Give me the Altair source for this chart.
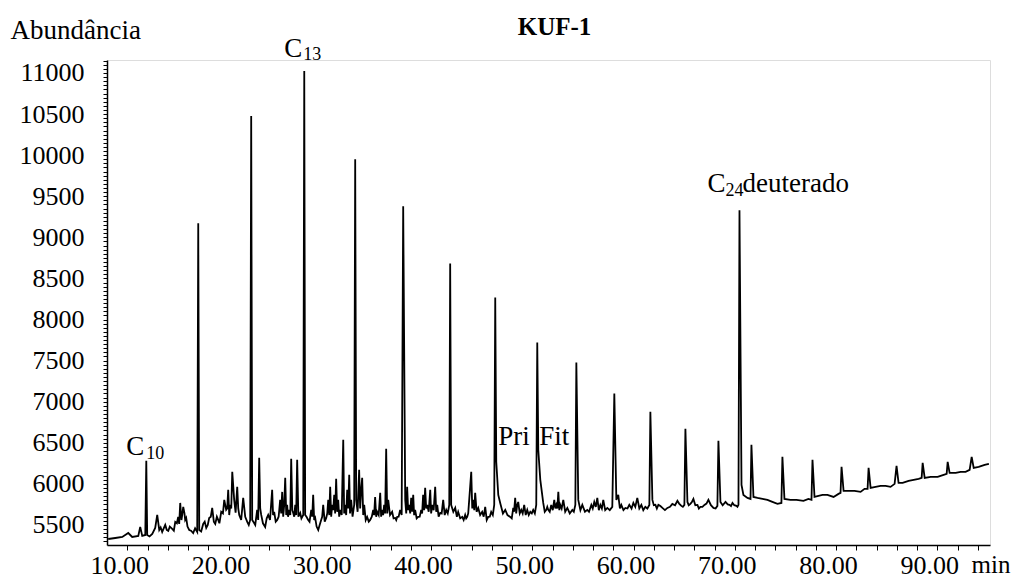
import altair as alt
import pandas as pd

# Chromatogram trace: retention time (min) and abundance
times = [8.12, 8.82, 9.51, 10.10, 10.49, 11.09, 11.28, 11.48, 11.78, 11.88, 11.97, 12.47, 12.76, 12.96, 13.16,
         13.45, 13.75, 14.05, 14.44, 14.74, 15.03, 15.13, 15.23, 15.43, 15.53, 15.72, 15.82, 16.12, 16.51, 16.91,
         17.01, 17.11, 17.50, 17.80, 18.09, 18.39, 18.69, 18.98, 19.28, 19.58, 19.77, 19.97, 20.17, 20.37, 20.56,
         20.86, 21.06, 21.45, 21.85, 22.14, 22.24, 22.34, 22.64, 22.83, 23.03, 23.23, 23.62, 23.92, 24.31, 24.51,
         24.81, 25.10, 25.30, 25.50, 25.60, 25.79, 25.99, 26.19, 26.39, 26.59, 26.78, 27.08, 27.38, 27.48, 27.57,
         27.87, 28.17, 28.36, 28.56, 28.86, 29.15, 29.35, 29.65, 29.85, 30.04, 30.24, 30.44, 30.63, 30.83, 31.03,
         31.33, 31.52, 31.72, 31.92, 32.11, 32.41, 32.51, 32.61, 32.90, 33.10, 33.20, 33.40, 33.69, 33.99, 34.29,
         34.48, 34.68, 34.98, 35.17, 35.37, 35.57, 35.77, 36.16, 36.46, 36.66, 36.95, 37.25, 37.45, 37.64, 37.84,
         38.04, 38.24, 38.43, 38.73, 39.03, 39.22, 39.42, 39.62, 39.92, 40.11, 40.41, 40.61, 40.90, 41.20, 41.50,
         41.80, 41.89, 41.99, 42.39, 42.68, 43.08, 43.37, 43.57, 43.77, 43.97, 44.17, 44.36, 44.66, 45.05, 45.35,
         45.65, 45.94, 46.24, 46.34, 46.44, 46.64, 46.83, 47.33, 47.82, 48.12, 48.31, 48.51, 48.61, 48.91, 49.20,
         49.50, 49.80, 50.09, 50.39, 50.49, 50.59, 50.79, 51.08, 51.38, 51.58, 51.87, 52.17, 52.37, 52.57, 52.76,
         53.06, 53.46, 53.95, 54.25, 54.35, 54.54, 54.94, 55.43, 55.83, 56.12, 56.42, 56.72, 57.01, 57.41, 57.90,
         58.10, 58.30, 58.49, 58.79, 59.19, 59.58, 59.98, 60.37, 60.77, 61.16, 61.56, 61.66, 61.86, 62.16, 62.45,
         62.85, 63.34, 63.83, 64.33, 64.72, 65.02, 65.12, 65.32, 65.61, 65.91, 66.31, 66.60, 67.00, 67.39, 67.89,
         68.28, 68.38, 68.58, 69.08, 69.47, 69.77, 70.16, 70.36, 70.46, 70.66, 70.85, 71.25, 71.55, 71.64, 71.84,
         72.24, 72.73, 73.22, 73.71, 74.21, 74.60, 74.70, 74.90, 75.49, 76.09, 76.78, 77.27, 77.57, 77.67, 77.87,
         78.26, 78.66, 79.15, 79.75, 80.24, 80.44, 80.54, 80.74, 81.23, 81.82, 82.42, 82.81, 83.11, 83.21, 83.41,
         83.90, 84.39, 84.89, 85.38, 85.78, 85.97, 86.17, 86.57, 87.16, 87.66, 88.15, 88.45, 88.55, 88.75, 89.34,
         90.03, 90.62, 90.92, 91.02, 91.21, 91.81, 92.30, 92.79, 93.19, 93.39, 93.59, 94.08, 94.67, 95.09]

abundance = [5329, 5341, 5354, 5402, 5354, 5366, 5476, 5366, 5378, 6280, 5378, 5390, 5463, 5622, 5439,
             5415, 5500, 5427, 5451, 5537, 5598, 5512, 5768, 5622, 5720, 5561, 5585, 5439, 5402, 5415,
             9171, 5439, 5512, 5463, 5585, 5707, 5512, 5561, 5659, 5805, 5683, 5927, 5744, 6146, 5805,
             5963, 5622, 5829, 5537, 5561, 10476, 5561, 5500, 5683, 6317, 5622, 5476, 5622, 5927, 5659,
             5561, 5805, 5902, 5744, 6073, 5744, 5683, 6305, 5646, 5744, 6293, 5646, 5622, 11024, 5622,
             5561, 5683, 5866, 5585, 5439, 5561, 5744, 5585, 5805, 5963, 5744, 5866, 6061, 5805, 5683,
             6537, 5744, 5927, 6110, 5805, 5744, 9951, 5805, 6171, 5927, 6073, 5744, 5598, 5561, 5683,
             5841, 5659, 5890, 5683, 5744, 6427, 5805, 5659, 5585, 5598, 5683, 9378, 5805, 5963, 5744,
             5829, 5866, 5683, 5598, 5683, 5866, 5951, 5744, 5927, 5744, 5963, 5744, 5646, 5805, 5683,
             5744, 8683, 5744, 5707, 5659, 5598, 5622, 5598, 5805, 6146, 5805, 5890, 5707, 5659, 5720,
             5598, 5659, 5744, 8268, 6268, 5866, 5768, 5683, 5598, 5707, 5829, 5744, 5780, 5683, 5744,
             5683, 5659, 5683, 5744, 7720, 6415, 6049, 5768, 5683, 5683, 5744, 5805, 5744, 5902, 5744,
             5805, 5707, 5683, 5744, 7476, 5805, 5744, 5683, 5744, 5780, 5829, 5744, 5805, 5707, 5720,
             7098, 5805, 5866, 5744, 5707, 5744, 5768, 5829, 5744, 5720, 5744, 6878, 5805, 5744, 5744,
             5707, 5707, 5756, 5793, 5732, 5744, 6671, 5780, 5756, 5817, 5744, 5720, 5744, 5805, 5707,
             5732, 6524, 5780, 5780, 5744, 5768, 5732, 5744, 9329, 5988, 5866, 5829, 5817, 6476, 5841,
             5829, 5817, 5805, 5780, 5756, 5768, 6329, 5817, 5805, 5805, 5793, 5817, 5805, 6293, 5841,
             5854, 5866, 5866, 5841, 5878, 5890, 6207, 5915, 5915, 5915, 5902, 5939, 5939, 6195, 5951,
             5963, 5976, 5976, 5963, 6000, 6220, 6012, 6012, 6037, 6049, 6061, 6073, 6256, 6073, 6085,
             6085, 6110, 6122, 6268, 6134, 6134, 6146, 6146, 6171, 6329, 6195, 6207, 6232, 6244]

# Additional readings of the small baseline wiggles between the points above
noise_times = [12.20, 13.30, 13.90, 14.20, 14.60, 14.90, 15.35, 15.65, 15.95, 16.30, 16.70,
               17.30, 17.65, 17.95, 18.25, 18.55, 18.85, 19.10, 19.45, 19.87, 20.07, 20.27, 20.70, 20.96,
               21.25, 21.65, 22.00, 22.50, 22.93, 23.13, 23.40, 23.77, 24.10, 24.40, 24.66, 24.95, 25.20,
               25.40, 25.70, 25.88, 26.10, 26.30, 26.49, 26.68, 26.90, 27.20, 27.70, 28.00, 28.27, 28.46,
               28.70, 29.00, 29.25, 29.50, 29.75, 29.95, 30.14, 30.34, 30.53, 30.73, 30.93, 31.18, 31.42,
               31.62, 31.82, 32.00, 32.25, 32.75, 33.00, 33.30, 33.55, 33.85, 34.15, 34.38, 34.58, 34.83,
               35.07, 35.27, 35.47, 35.67, 35.95, 36.30, 36.56, 36.80, 37.10, 37.55, 37.74, 37.94, 38.14,
               38.33, 38.58, 38.88, 39.12, 39.32, 39.52, 39.77, 40.01, 40.26, 40.51, 40.75, 41.05, 41.35,
               41.65, 42.20, 42.55, 42.88, 43.22, 43.47, 43.67, 44.07, 44.27, 44.50, 44.85, 45.20, 45.50,
               45.80, 46.10, 47.10, 47.55, 47.97, 48.20, 48.41, 48.76, 49.05, 49.35, 49.65, 49.95, 50.25,
               51.23, 51.48, 51.72, 52.02, 52.27, 52.47, 52.67, 52.90, 53.25, 53.70, 54.10, 54.75, 55.20,
               55.60, 55.97, 56.27, 56.57, 56.87, 57.20, 57.65, 58.65, 59.00, 59.40, 59.80, 60.17, 60.57,
               60.96, 61.36, 62.00, 62.30, 62.65, 63.10, 63.60, 64.10, 64.50, 64.87, 65.45, 65.76, 66.10,
               66.45, 66.80, 67.20, 67.64, 68.10, 68.80, 69.30, 69.62, 69.95, 70.26]
noise_abund = [5360, 5470, 5440, 5480, 5430, 5520, 5560, 5640, 5480, 5430, 5460,
               5420, 5540, 5500, 5600, 5540, 5600, 5520, 5640, 5700, 5620, 5700, 5650, 5700,
               5560, 5600, 5500, 5530, 5560, 5700, 5520, 5580, 5560, 5620, 5540, 5600, 5640,
               5600, 5620, 5600, 5620, 5680, 5600, 5620, 5600, 5580, 5600, 5540, 5600, 5560,
               5480, 5500, 5600, 5540, 5640, 5620, 5600, 5680, 5640, 5660, 5600, 5620, 5640,
               5620, 5700, 5640, 5600, 5660, 5700, 5620, 5560, 5540, 5600, 5620, 5600, 5620,
               5600, 5620, 5640, 5640, 5620, 5580, 5560, 5600, 5620, 5640, 5680, 5640, 5660,
               5620, 5580, 5600, 5640, 5680, 5700, 5660, 5640, 5680, 5660, 5600, 5640, 5620,
               5640, 5660, 5600, 5580, 5560, 5580, 5640, 5700, 5680, 5660, 5620, 5600, 5560,
               5600, 5620, 5640, 5620, 5580, 5660, 5640, 5640, 5640, 5620, 5620, 5640, 5640,
               5660, 5720, 5660, 5680, 5700, 5700, 5680, 5700, 5660, 5640, 5660, 5680, 5660,
               5660, 5700, 5720, 5680, 5700, 5680, 5680, 5700, 5680, 5700, 5700, 5720, 5700,
               5680, 5700, 5740, 5700, 5730, 5680, 5720, 5740, 5760, 5720, 5740, 5780, 5740,
               5700, 5720, 5760, 5740, 5700, 5740, 5750, 5730, 5740, 5720]

# Annotated peaks
label_names = ["C10", "C13", "Pri", "Fit", "C24deuterado"]
label_times = [11.88, 27.48, 46.44, 50.59, 70.46]
label_abund = [6280, 11024, 6268, 6415, 9329]

x_ticks = list(range(10, 95, 2))
y_ticks = list(range(5300, 11151, 50))

FONT = "Liberation Serif"
FS = 26

df = pd.DataFrame({"t": times + noise_times, "a": abundance + noise_abund}).sort_values("t")
labels = pd.DataFrame({"name": label_names, "t": label_times, "a": label_abund})

xscale = alt.Scale(domain=[8.0, 95.2], nice=False, zero=False)
yscale = alt.Scale(domain=[5256, 11158], nice=False, zero=False)

xaxis = alt.Axis(
    values=x_ticks,
    labelExpr="datum.value % 10 === 0 ? format(datum.value, '.2f') : ''",
    labelOverlap=False, labelFlush=False, labelOffset=-8,
    labelFont=FONT, labelFontSize=FS, labelColor="black", labelPadding=2,
    tickColor="black", tickSize=5, tickWidth=1,
    domainColor="black", domainWidth=1.5, grid=False,
    title="min", titleFont=FONT, titleFontSize=25, titleFontWeight="normal", titleColor="black",
    titleAlign="left", titleBaseline="alphabetic", titleX=864, titleY=27,
)
yaxis = alt.Axis(
    values=y_ticks,
    labelExpr="datum.value % 500 === 0 ? format(datum.value, 'd') : ''",
    labelOverlap=False, labelFlush=False,
    labelFont=FONT, labelFontSize=FS, labelColor="black", labelPadding=19,
    tickColor="black", tickSize=4, tickWidth=1,
    domainColor="black", domainWidth=1.5, grid=False,
    title="Abundância", titleFont=FONT, titleFontSize=27, titleFontWeight="normal", titleColor="black",
    titleAngle=0, titleAlign="left", titleBaseline="alphabetic", titleX=-97, titleY=-22,
)

enc = dict(x=alt.X("t:Q", scale=xscale, axis=xaxis), y=alt.Y("a:Q", scale=yscale, axis=yaxis))

line = alt.Chart(df).mark_line(color="black", strokeWidth=1.8).encode(
    x=alt.X("t:Q", scale=xscale, axis=xaxis),
    y=alt.Y("a:Q", scale=yscale, axis=yaxis),
    order="t:Q",
)


def label(name, text, dx, dy, size, align="left"):
    return alt.Chart(labels).transform_filter(
        alt.datum.name == name
    ).mark_text(
        text=text, dx=dx, dy=dy, align=align, baseline="alphabetic",
        font=FONT, fontSize=size, color="black"
    ).encode(**enc)


AS = 27
SS = 18
layers = [
    line,
    label("C10", "C", -2, -6, AS, "right"),
    label("C10", "10", 0, -2, SS),
    label("C13", "C", -2, -14, AS, "right"),
    label("C13", "13", -1, -11, SS),
    label("Pri", "Pri", 2, -17, AS),
    label("Fit", "Fit", 1, -5, AS),
    label("C24deuterado", "C", -32, -18, AS),
    label("C24deuterado", "24", -14, -14, SS),
    label("C24deuterado", "deuterado", 3, -18, AS),
]

chart = alt.layer(*layers).properties(
    width=883, height=485,
    title=alt.TitleParams("KUF-1", font=FONT, fontSize=25, fontWeight="bold", color="black",
                          anchor="middle", frame="group", baseline="alphabetic", offset=23, dx=6, dy=67),
    autosize=alt.AutoSizeParams(type="none"),
    padding={"left": 99, "top": 52, "right": 26, "bottom": 34},
).configure_view(stroke=None).configure(background="white")

chart.save("out.html", embed_options={"renderer": "svg", "actions": False})
